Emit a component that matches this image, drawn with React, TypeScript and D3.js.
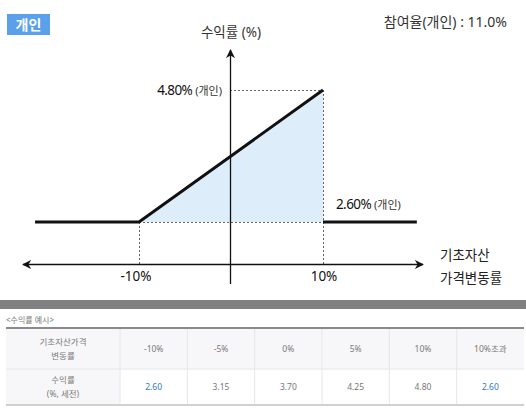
import { useEffect, useRef } from "react";
import * as d3 from "d3";

// payoff of the note (underlying move %, return %)
const risingPart = [
  { move: -21.3, ret: 2.6 },
  { move: -10, ret: 2.6 },
  { move: 10, ret: 4.8 },
];
const afterKnockOut = [
  { move: 10, ret: 2.6 },
  { move: 20.2, ret: 2.6 },
];
const tickMoves = [-10, 10];
const tickLabels = ["-10%", "10%"];

const tableMoves = ["-10%", "-5%", "0%", "5%", "10%", "10%초과"];
const tableReturns = ["2.60", "3.15", "3.70", "4.25", "4.80", "2.60"];
const highlighted = [0, 5];

const FONT = "'Noto Sans', 'Noto Sans CJK KR', sans-serif";

export default function App() {
  const ref = useRef<SVGSVGElement | null>(null);

  useEffect(() => {
    if (!ref.current) return;
    const svg = d3.select(ref.current);
    svg.selectAll("*").remove();
    svg.attr("font-family", FONT);

    const x = d3.scaleLinear().domain([-10, 10]).range([139, 323]);
    const y = d3.scaleLinear().domain([2.6, 4.8]).range([222, 90]);
    const axisY = 264; // x-axis baseline
    const axisX = x(0) - 1;

    const defs = svg.append("defs");
    defs
      .append("marker")
      .attr("id", "arr")
      .attr("viewBox", "0 0 10 10")
      .attr("refX", 9)
      .attr("refY", 5)
      .attr("markerWidth", 9)
      .attr("markerHeight", 9)
      .attr("markerUnits", "userSpaceOnUse")
      .attr("orient", "auto-start-reverse")
      .append("path")
      .attr("d", "M0,0 L10,5 L0,10 L3,5 Z")
      .attr("fill", "#111");

    const txt = (xx: number, yy: number, s: string, size: number, fill: string, anchor = "start") =>
      svg
        .append("text")
        .attr("x", xx)
        .attr("y", yy)
        .attr("text-anchor", anchor)
        .attr("font-size", size)
        .attr("fill", fill)
        .text(s);

    // badge
    svg.append("rect").attr("x", 7).attr("y", 14).attr("width", 43).attr("height", 21).attr("fill", "#5aa0ea");
    txt(28.5, 29.5, "개인", 14, "#fff", "middle").attr("font-weight", 700);

    txt(231, 37, "수익률 (%)", 13.5, "#333", "middle");
    txt(507, 27, "참여율(개인) : 11.0%", 14, "#333", "end");

    // shaded area
    svg
      .append("path")
      .attr(
        "d",
        d3
          .area<{ move: number; ret: number }>()
          .x(d => x(d.move))
          .y0(y(2.6))
          .y1(d => y(d.ret))(risingPart.slice(1))
      )
      .attr("fill", "#ddeefa");

    // dotted guides
    const dash = (x1: number, y1: number, x2: number, y2: number) =>
      svg
        .append("line")
        .attr("x1", x1)
        .attr("y1", y1)
        .attr("x2", x2)
        .attr("y2", y2)
        .attr("stroke", "#666")
        .attr("stroke-width", 1)
        .attr("stroke-dasharray", "2,2");
    dash(axisX, y(4.8) + 0.5, x(10), y(4.8) + 0.5);
    dash(x(-10), y(2.6) + 0.5, x(10), y(2.6) + 0.5);
    dash(x(-10) + 0.5, y(2.6), x(-10) + 0.5, axisY);
    dash(x(10) + 0.5, y(4.8), x(10) + 0.5, axisY);

    // axes
    svg
      .append("line")
      .attr("x1", axisX + 0.5)
      .attr("y1", 284)
      .attr("x2", axisX + 0.5)
      .attr("y2", 50)
      .attr("stroke", "#111")
      .attr("stroke-width", 1.3)
      .attr("marker-end", "url(#arr)");
    svg
      .append("line")
      .attr("x1", 23)
      .attr("y1", axisY + 0.5)
      .attr("x2", 423)
      .attr("y2", axisY + 0.5)
      .attr("stroke", "#111")
      .attr("stroke-width", 1.3)
      .attr("marker-start", "url(#arr)")
      .attr("marker-end", "url(#arr)");

    // payoff lines
    const line = d3
      .line<{ move: number; ret: number }>()
      .x(d => x(d.move))
      .y(d => y(d.ret));
    [risingPart, afterKnockOut].forEach(seg =>
      svg
        .append("path")
        .attr("d", line(seg))
        .attr("fill", "none")
        .attr("stroke", "#111")
        .attr("stroke-width", 3)
    );

    // tick labels
    tickMoves.forEach((d, i) => txt(x(d) - (i === 0 ? 3 : -1), 281, tickLabels[i], 13.5, "#111", "middle"));

    // value labels
    const val = (xx: number, yy: number, main: string, anchorEnd: boolean) => {
      const t = svg
        .append("text")
        .attr("x", xx)
        .attr("y", yy)
        .attr("text-anchor", anchorEnd ? "end" : "start")
        .attr("fill", "#111");
      t.append("tspan").attr("font-size", 13.5).attr("letter-spacing", -0.6).text(main);
      t.append("tspan").attr("font-size", 11).attr("fill", "#333").attr("dx", 3).text("(개인)");
    };
    val(222, y(4.8) + 4.5, "4.80%", true);
    val(336, 209, "2.60%", false);

    txt(440, 260, "기초자산", 13.5, "#222");
    txt(440, 283, "가격변동률", 13.5, "#222");

    // example table
    svg.append("rect").attr("x", 0).attr("y", 300).attr("width", 526).attr("height", 9).attr("fill", "#808080");
    txt(6, 323, "<수익률 예시>", 8, "#777");

    const col = d3.scaleBand<string>().domain(tableMoves).range([120, 524]);
    const top = 328, mid = 369, bot = 405;
    svg.append("rect").attr("x", 6).attr("y", top).attr("width", 518).attr("height", mid - top).attr("fill", "#f7f7f9");
    svg.append("rect").attr("x", 6).attr("y", mid).attr("width", 114).attr("height", bot - mid).attr("fill", "#f7f7f9");
    svg.append("line").attr("x1", 6).attr("x2", 524).attr("y1", top).attr("y2", top).attr("stroke", "#8a8a8a").attr("stroke-width", 2);
    svg.append("line").attr("x1", 6).attr("x2", 524).attr("y1", mid).attr("y2", mid).attr("stroke", "#e6e6ea").attr("stroke-width", 1);
    svg.append("line").attr("x1", 6).attr("x2", 524).attr("y1", bot).attr("y2", bot).attr("stroke", "#d0d0d0").attr("stroke-width", 2);
    svg
      .selectAll(".vsep")
      .data(tableMoves)
      .enter()
      .append("line")
      .attr("x1", d => col(d)!)
      .attr("x2", d => col(d)!)
      .attr("y1", top + 1)
      .attr("y2", bot - 1)
      .attr("stroke", "#e6e6ea");

    const cellText = (xx: number, yy: number, s: string, color = "#777") => txt(xx, yy, s, 8.5, color, "middle");
    cellText(63, 345, "기초자산가격");
    cellText(63, 359, "변동률");
    cellText(63, 383, "수익률");
    cellText(63, 397, "(%, 세전)");
    tableMoves.forEach((m, i) => {
      const cx = col(m)! + col.bandwidth() / 2;
      cellText(cx, 352, m);
      cellText(cx, 390, tableReturns[i], highlighted.includes(i) ? "#2f78c4" : "#777");
    });
  }, []);

  return (
    <svg
      ref={ref}
      width={526}
      height={409}
      style={{ position: "absolute", left: 0, top: 0, background: "#fff" }}
    />
  );
}
